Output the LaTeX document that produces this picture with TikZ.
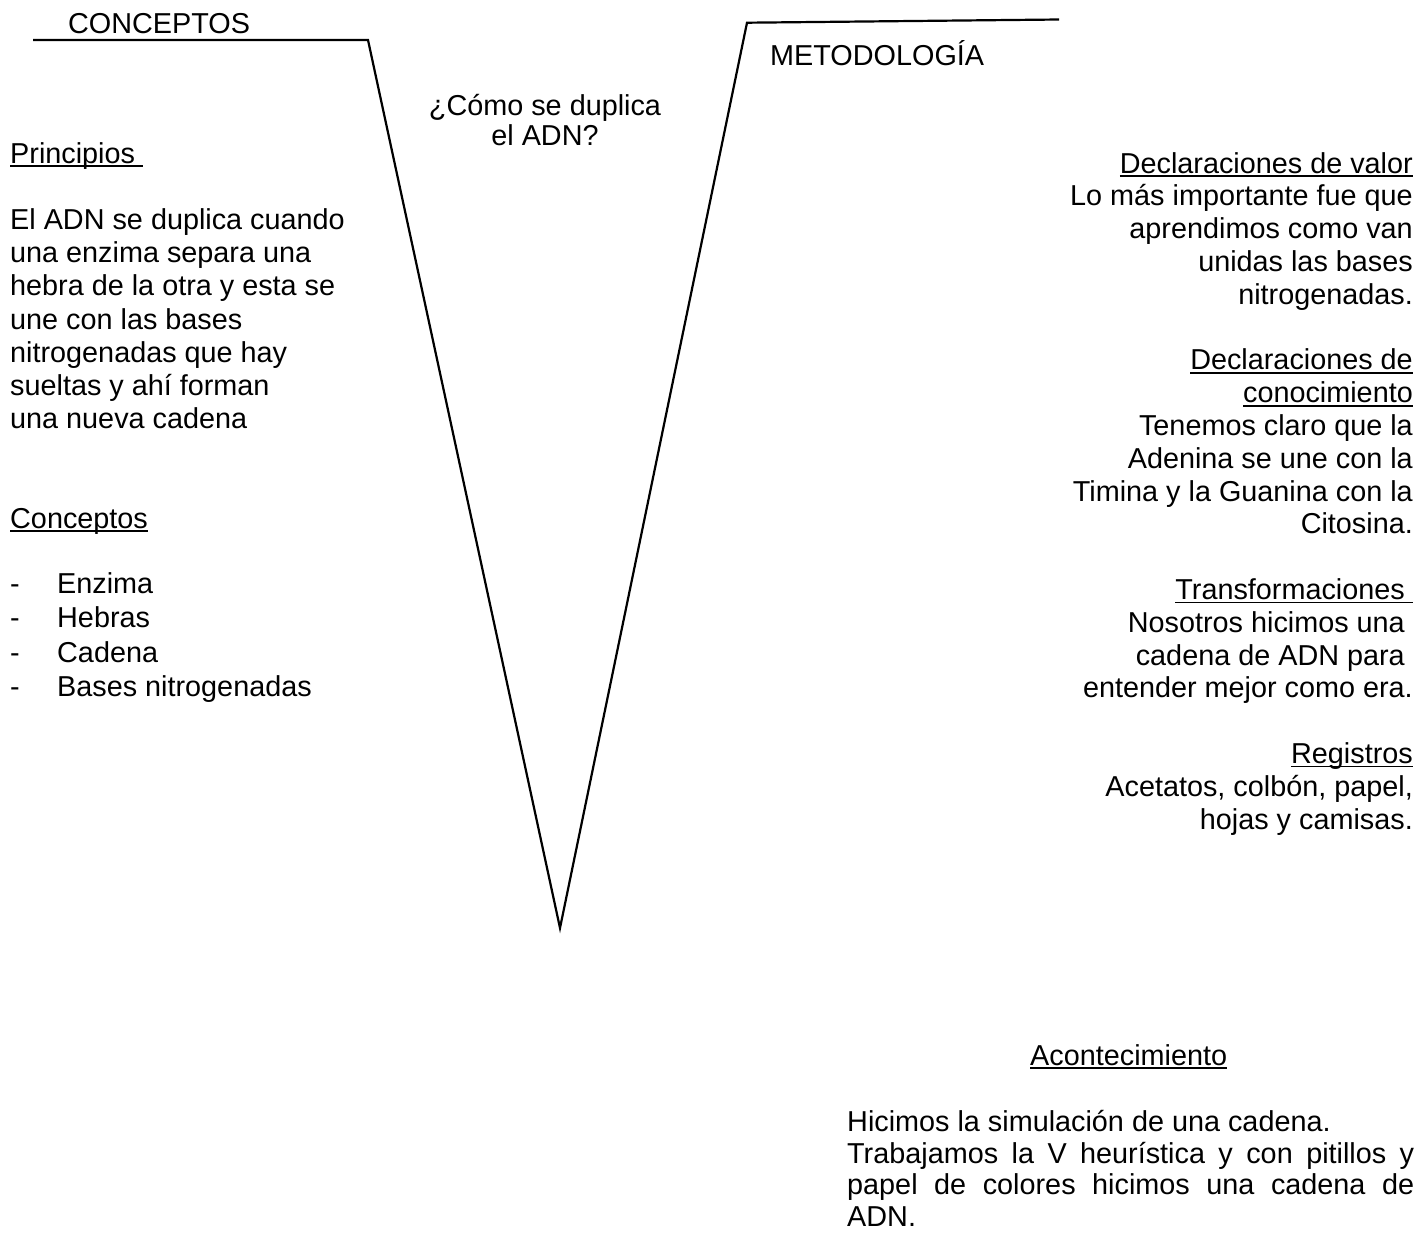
\documentclass[tikz,border=0pt]{standalone}
\usepackage{fontspec}
\setmainfont{Liberation Sans}
% underline drawn at a fixed depth, crossing the descenders
\newsavebox\ulinebox
\newcommand{\undl}[1]{\sbox\ulinebox{#1}\rlap{\rule[-4pt]{\wd\ulinebox}{1.8pt}}\usebox\ulinebox}
\begin{document}
\begin{tikzpicture}[x=1pt,y=-1pt,
  txt/.style={inner sep=0pt, font=\fontsize{28.8pt}{33pt}\selectfont},
  lft/.style={txt, anchor=base west},
  rgt/.style={txt, anchor=base east},
  ctr/.style={txt, anchor=base},
  vline/.style={line width=2.2pt, line join=miter}]
\useasboundingbox (0,0) rectangle (1414,1232);

% the V and its two shoulders
\coordinate (lend) at (33,40);
\coordinate (lcorner) at (368,40);
\coordinate (tip) at (560,928);
\coordinate (rcorner) at (747,22.7);
\coordinate (rend) at (1059,19.5);
\draw[vline] (lend) -- (lcorner) -- (tip) -- (rcorner) -- (rend);

% headings
\node[lft] (concepts) at (68,33) {CONCEPTOS};
\node[lft] (method) at (770,65) {METODOLOGÍA};
\node[ctr] (q1) at (545,115) {¿Cómo se duplica};
\node[ctr] (q2) at (545,145) {el ADN?};

% left column
\node[lft] (princ) at (10,163) {\undl{Principios\kern0.278em}};
\node[lft] (p1) at (10,229.4) {El ADN se duplica cuando};
\node[lft] (p2) at (10,262.6) {una enzima separa una};
\node[lft] (p3) at (10,295.8) {hebra de la otra y esta se};
\node[lft] (p4) at (10,329) {une con las bases};
\node[lft] (p5) at (10,362.2) {nitrogenadas que hay};
\node[lft] (p6) at (10,395.4) {sueltas y ahí forman};
\node[lft] (p7) at (10,428.6) {una nueva cadena};

\node[lft] (conc) at (10,528) {\undl{Conceptos}};
\node[lft] (d1) at (10,593) {-};
\node[lft] (c1) at (57,593) {Enzima};
\node[lft] (d2) at (10,627) {-};
\node[lft] (c2) at (57,627) {Hebras};
\node[lft] (d3) at (10,662) {-};
\node[lft] (c3) at (57,662) {Cadena};
\node[lft] (d4) at (10,696) {-};
\node[lft] (c4) at (57,696) {Bases nitrogenadas};

% right column
\node[rgt] (v0) at (1413,173) {\undl{Declaraciones de valor}};
\node[rgt] (v1) at (1413,205.8) {Lo más importante fue que};
\node[rgt] (v2) at (1413,238.6) {aprendimos como van};
\node[rgt] (v3) at (1413,271.4) {unidas las bases};
\node[rgt] (v4) at (1413,304.2) {nitrogenadas.};

\node[rgt] (k0) at (1413,369.8) {\undl{Declaraciones de}};
\node[rgt] (k1) at (1413,402.6) {\undl{conocimiento}};
\node[rgt] (k2) at (1413,435.4) {Tenemos claro que la};
\node[rgt] (k3) at (1413,468.2) {Adenina se une con la};
\node[rgt] (k4) at (1413,501) {Timina y la Guanina con la};
\node[rgt] (k5) at (1413,533.8) {Citosina.};

\node[rgt] (t0) at (1413,599.4) {\undl{Transformaciones\kern0.278em}};
\node[rgt] (t1) at (1413,632.2) {Nosotros hicimos una\kern0.278em};
\node[rgt] (t2) at (1413,665) {cadena de ADN para\kern0.278em};
\node[rgt] (t3) at (1413,697.8) {entender mejor como era.};

\node[rgt] (r0) at (1413,763.4) {\undl{Registros}};
\node[rgt] (r1) at (1413,796.2) {Acetatos, colbón, papel,};
\node[rgt] (r2) at (1413,829) {hojas y camisas.};

% bottom block
\node[lft] (event) at (1030,1065) {\undl{Acontecimiento}};
\node[lft] (e1) at (847,1131.5) {Hicimos la simulación de una cadena.};
\node[lft] (e2) at (847,1163) {\makebox[567pt][s]{Trabajamos la V heurística y con pitillos y}};
\node[lft] (e3) at (847,1194.5) {\makebox[567pt][s]{papel de colores hicimos una cadena de}};
\node[lft] (e4) at (847,1226) {ADN.};
\end{tikzpicture}
\end{document}
